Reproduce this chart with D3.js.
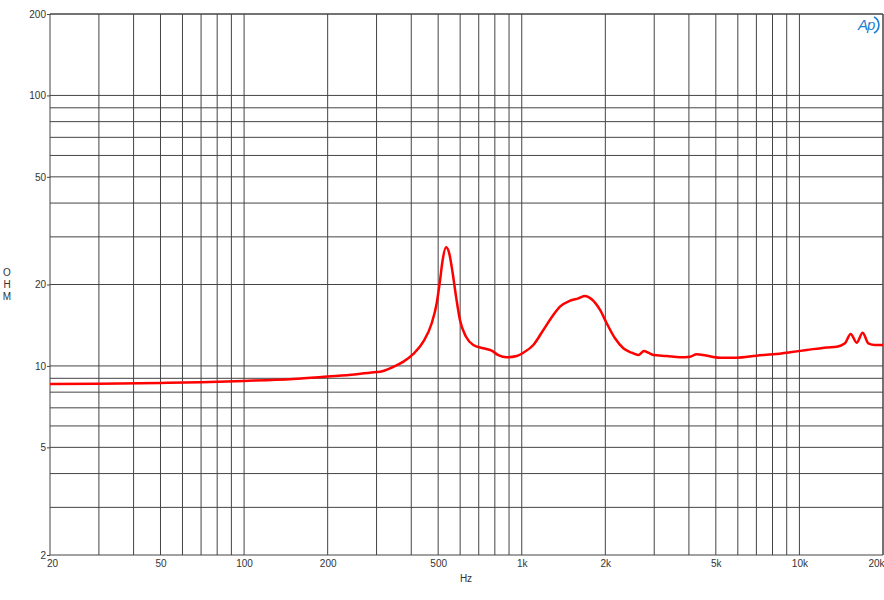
<!DOCTYPE html>
<html><head><meta charset="utf-8">
<script src="https://cdn.jsdelivr.net/npm/d3@7"></script>
<style>body{margin:0;background:#fff}svg{display:block}text{font-family:Arial,"Liberation Sans",sans-serif}</style>
</head><body>
<svg id="c" width="884" height="600"></svg>
<script>
const freqHz = [20,30,50,70,100,150,200,250,300,309,345,375,407,442,474,494,508,519,534,548,564,580,599,630,669,727,779,823,883,959,1013,1101,1196,1299,1373,1492,1598,1690,1786,1914,2023,2167,2322,2489,2628,2756,2856,2977,3327,3716,4036,4266,4506,5177,5945,7017,8052,9247,10622,12538,13622,14592,15298,16078,16900,17702,18712,20000];
const impedanceOhm = [8.58,8.6,8.65,8.7,8.8,8.95,9.14,9.3,9.5,9.52,9.93,10.37,11.07,12.29,14.38,17.04,20.78,24.64,27.44,26.08,22.0,18.03,14.78,12.82,11.95,11.62,11.38,10.97,10.76,10.88,11.19,11.95,13.58,15.43,16.56,17.42,17.78,18.14,17.63,16.1,14.38,12.65,11.62,11.19,10.97,11.35,11.19,10.97,10.88,10.76,10.82,11.04,10.97,10.72,10.72,10.91,11.04,11.23,11.45,11.71,11.78,12.12,13.12,12.19,13.27,12.12,11.95,11.95];
const xTickValues = [20,50,100,200,500,1000,2000,5000,10000,20000];
const xTickLabels = ["20","50","100","200","500","1k","2k","5k","10k","20k"];
const yTickValues = [2,5,10,20,50,100,200];
const yTickLabels = ["2","5","10","20","50","100","200"];

const L=50,R=883,T=14,B=555;
const svg=d3.select("#c");
const x=d3.scaleLog().domain([20,20000]).range([L,R]);
const y=d3.scaleLog().domain([2,200]).range([B,T]);

const xg=[];
[10,100,1000,10000].forEach(d=>{for(let k=1;k<10;k++){const v=d*k; if(v>=20&&v<=20000) xg.push(v);}});
xg.push(20000);
const yg=[];
[1,10,100].forEach(d=>{for(let k=1;k<10;k++){const v=d*k; if(v>=2&&v<=200) yg.push(v);}});
yg.push(200);
const g=svg.append("g");
g.selectAll(".vx").data(xg).join("line").attr("x1",d=>x(d)).attr("x2",d=>x(d)).attr("y1",T).attr("y2",B)
 .attr("stroke","#444").attr("stroke-width",1);
g.selectAll(".hy").data(yg).join("line").attr("y1",d=>y(d)).attr("y2",d=>y(d)).attr("x1",L).attr("x2",R)
 .attr("stroke","#444").attr("stroke-width",1);

const xAxis=d3.axisBottom(x).tickValues(xTickValues).tickFormat((d,i)=>xTickLabels[i]).tickSize(0).tickPadding(5);
const ax=svg.append("g").attr("transform",`translate(0,${B})`).call(xAxis);
ax.select(".domain").remove();
ax.selectAll("text").attr("font-size",10).attr("fill","#333");
ax.selectAll(".tick").filter(d=>d===20000).select("text").attr("text-anchor","end").attr("dx",1);
ax.selectAll(".tick").filter(d=>d===20).select("text").attr("dx",2);
const yAxis=d3.axisLeft(y).tickValues(yTickValues).tickFormat((d,i)=>yTickLabels[i]).tickSize(3).tickPadding(1);
const ay=svg.append("g").attr("transform",`translate(${L},0)`).call(yAxis);
ay.select(".domain").remove();
ay.selectAll("line").attr("stroke","#444");
ay.selectAll("text").attr("font-size",10).attr("fill","#333");

const oh=svg.append("text").attr("x",7).attr("y",276).attr("font-size",10).attr("fill","#333").attr("text-anchor","middle");
["O","H","M"].forEach((c,i)=>oh.append("tspan").attr("x",7).attr("dy",i?12:0).text(c));
svg.append("text").attr("x",466).attr("y",582).attr("font-size",10).attr("fill","#333").attr("text-anchor","middle").text("Hz");

const data=freqHz.map((f,i)=>[f,impedanceOhm[i]]);
svg.append("path").datum(data).attr("fill","none").attr("stroke","#ff0000").attr("stroke-width",2.5)
 .attr("stroke-linejoin","round")
 .attr("d",d3.line().x(d=>x(d[0])).y(d=>y(d[1])).curve(d3.curveMonotoneX));

const lg=svg.append("g").attr("transform","translate(858,30)");
lg.append("text").attr("x",0).attr("y",0).attr("font-size",15).attr("font-style","italic").attr("letter-spacing",-1).attr("fill","#1f7fcf").text("Ap");
lg.append("path").attr("d","M16,-13 A9,9 0 0 1 16,3").attr("fill","none").attr("stroke","#1f7fcf").attr("stroke-width",1.6);
</script>
</body></html>
